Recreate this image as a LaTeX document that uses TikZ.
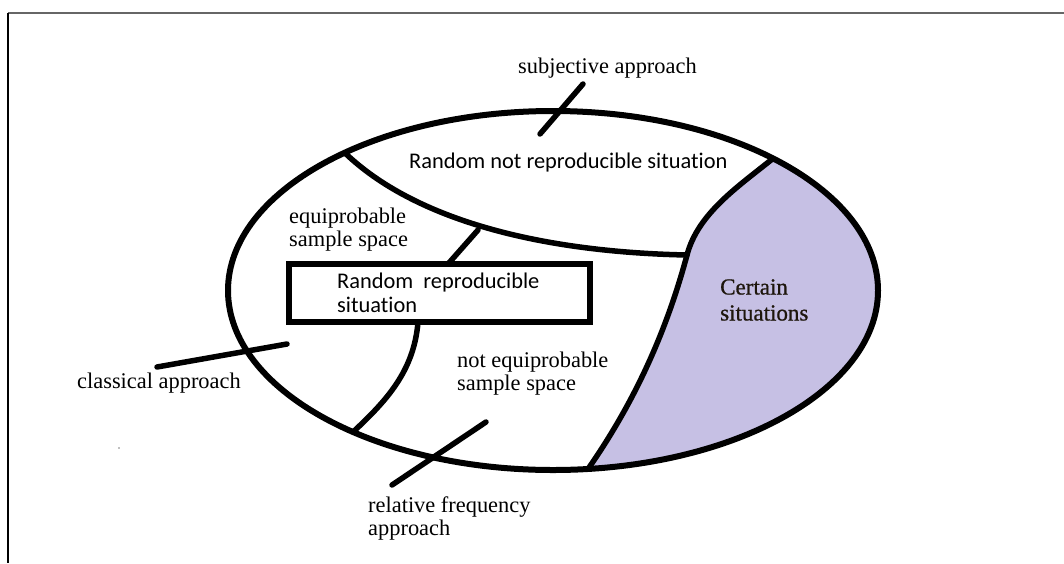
\documentclass[tikz,border=0pt]{standalone}
\usepackage{fontspec}
\setmainfont{Liberation Serif}
\newfontfamily\calib[Ligatures=NoCommon]{Carlito}
\newfontfamily\certfont[FakeBold=0.8]{Liberation Serif}
\definecolor{lav}{RGB}{198,192,228}
\definecolor{certaintext}{RGB}{30,22,12}
\begin{document}
\begin{tikzpicture}[x=1pt,y=-1pt,
  bold line/.style={line width=5.5pt, line cap=round, line join=round},
  rim/.style={line width=6pt},
  serif label/.style={inner sep=0pt, anchor=west, align=left, font=\fontsize{22.4}{23}\selectfont},
  sans label/.style={inner sep=0pt, anchor=west, align=left, font=\calib\fontsize{22.4}{24}\selectfont},
]
\useasboundingbox (0,0) rectangle (1064,563);
% frame
\draw[line width=2pt, black!60] (8,13) -- (1064,13);
\draw[line width=2pt, black] (8,13) -- (8,563);
\fill[black!50] (119,448) circle (0.8);
% certain region
\fill[lav] (588,469) .. controls (634,403) and (666,333) .. (687,255)
  .. controls (698,213) and (739,186) .. (773,158.4)
  arc[start angle=-47.4, end angle=83.8, x radius=325, y radius=179.5] -- cycle;
% ellipse
\draw[rim] (553,290.5) ellipse [x radius=325, y radius=179.5];
% boundaries
\coordinate (cbot) at (588,469);
\coordinate (cmid) at (687,255);
\coordinate (ctop) at (773,158.4);
\coordinate (tstart) at (345,153);
\draw[bold line] (cbot) .. controls (634,403) and (666,333) .. (cmid)
  .. controls (698,213) and (739,186) .. (ctop);
\draw[bold line] (tstart) .. controls (415,220) and (540,252) .. (cmid);
% box
\draw[line width=6pt] (289,264) rectangle (590,322);
\coordinate (boxtop) at (448,264);
\coordinate (boxbot) at (418,322);
\coordinate (tcurve) at (478,230);
\coordinate (ebot) at (353,432);
\draw[bold line] (tcurve) -- (boxtop);
\draw[bold line] (boxbot) .. controls (414,372) and (385,402) .. (ebot);
% pointer lines
\coordinate (s1) at (540,134); \coordinate (s2) at (583,84);
\coordinate (c1) at (157,367); \coordinate (c2) at (287,344);
\coordinate (r1) at (392,485); \coordinate (r2) at (486,422);
\draw[bold line] (s1) -- (s2);
\draw[bold line] (c1) -- (c2);
\draw[bold line] (r1) -- (r2);
% labels
\node[serif label] (subj) at (518,68) {subjective approach};
\node[sans label] (rnr) at (409,163) {Random not reproducible situation};
\node[serif label] (eq) at (289,229.5) {equiprobable\\sample space};
\node[sans label] (rr) at (337,293) {Random\ \ reproducible\\situation};
\node[serif label] (cl) at (77,383) {classical approach};
\node[serif label] (neq) at (457,373.5) {not equiprobable\\sample space};
\node[serif label] (rf) at (368,518.5) {relative frequency\\approach};
\node[inner sep=0pt, anchor=west, align=left, text=certaintext, font=\certfont\fontsize{23}{26}\selectfont] (cert) at (720,300) {Certain\\situations};
\end{tikzpicture}
\end{document}
